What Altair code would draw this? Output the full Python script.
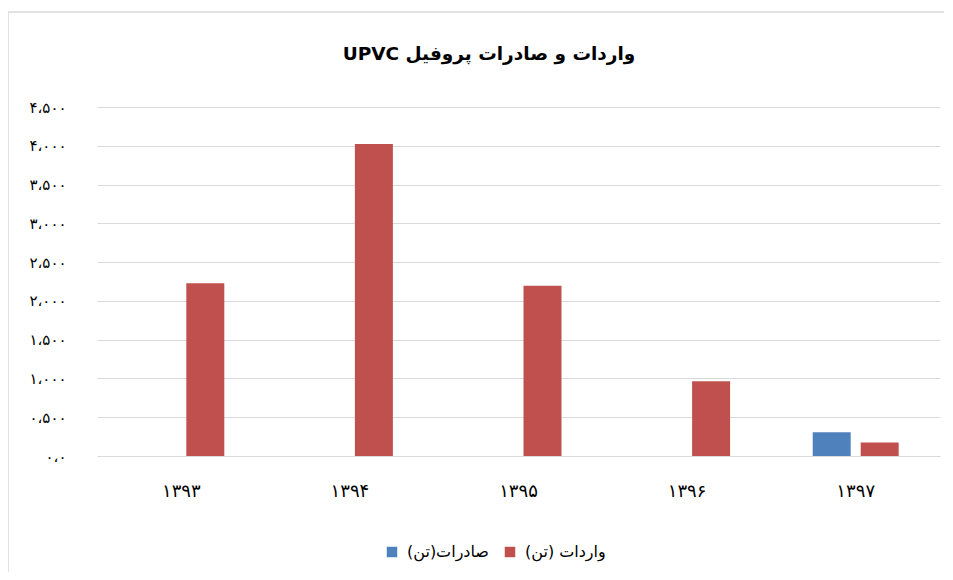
import altair as alt
import pandas as pd

years = ["۱۳۹۳", "۱۳۹۴", "۱۳۹۵", "۱۳۹۶", "۱۳۹۷"]
series = ["صادرات(تن)", "واردات (تن)"]
exports = [0, 0, 0, 0, 306]
imports = [2228, 4022, 2194, 964, 173]
colors = ["#4f81bd", "#c0504d"]
y_ticks = [0, 500, 1000, 1500, 2000, 2500, 3000, 3500, 4000, 4500]
y_labels = ["۰،۰", "۰،۵۰۰", "۱،۰۰۰", "۱،۵۰۰", "۲،۰۰۰", "۲،۵۰۰", "۳،۰۰۰", "۳،۵۰۰", "۴،۰۰۰", "۴،۵۰۰"]
title_text = "واردات و صادرات پروفیل UPVC"

FONT = "DejaVu Sans"

rows = []
for i, y in enumerate(years):
    rows.append({"year": y, "series": series[0], "value": exports[i]})
    rows.append({"year": y, "series": series[1], "value": imports[i]})
df = pd.DataFrame(rows)

label_expr = "[" + ",".join("'" + s + "'" for s in y_labels) + "][round(datum.value / 500)]"

bars = alt.Chart(df).mark_bar().encode(
    x=alt.X(
        "year:N", sort=years, title=None,
        scale=alt.Scale(paddingInner=0.49, paddingOuter=0.245),
        axis=alt.Axis(domain=False, ticks=False, labelAngle=0, labelPadding=26,
                      labelFontSize=18, labelFont=FONT, labelColor="#000000"),
    ),
    xOffset=alt.XOffset("series:N", sort=series,
                        scale=alt.Scale(paddingInner=0.2083, paddingOuter=0)),
    y=alt.Y(
        "value:Q", title=None,
        scale=alt.Scale(domain=[0, 4500], nice=False),
        axis=alt.Axis(values=y_ticks, labelExpr=label_expr, domain=False, ticks=False,
                      grid=True, gridColor="#d9d9d9", gridWidth=1.2, labelPadding=31,
                      labelFontSize=15, labelFont=FONT, labelColor="#000000"),
    ),
    color=alt.Color(
        "series:N",
        scale=alt.Scale(domain=series, range=colors),
        legend=alt.Legend(orient="none", legendX=287, legendY=437, direction="horizontal",
                          title=None, symbolType="square", symbolSize=110,
                          symbolStrokeWidth=0, labelFontSize=16, labelFont=FONT,
                          labelColor="#000000", columnPadding=13, labelOffset=7),
    ),
)

one = pd.DataFrame({"a": [0]})
top_border = alt.Chart(one).mark_rule(color="#d9d9d9", strokeWidth=1.5).encode(
    x=alt.value(-89), x2=alt.value(860), y=alt.value(-95)
)
left_border = alt.Chart(one).mark_rule(color="#d9d9d9", strokeWidth=1.5).encode(
    x=alt.value(-89), y=alt.value(-95), y2=alt.value(470)
)
title_mark = alt.Chart(one).mark_text(
    font=FONT, fontSize=18.5, fontWeight="bold", color="#000000",
    align="center", baseline="middle",
).encode(
    x=alt.value(392), y=alt.value(-53), text=alt.value("\u202B" + title_text + "\u202C")
)

chart = alt.layer(top_border, left_border, title_mark, bars).properties(
    width=843,
    height=349,
    autosize=alt.AutoSizeParams(type="none"),
    padding={"left": 89, "top": 99, "right": 4, "bottom": 116},
).configure_view(stroke=None)

chart.save("out.html", embed_options={"renderer": "svg", "actions": False})
